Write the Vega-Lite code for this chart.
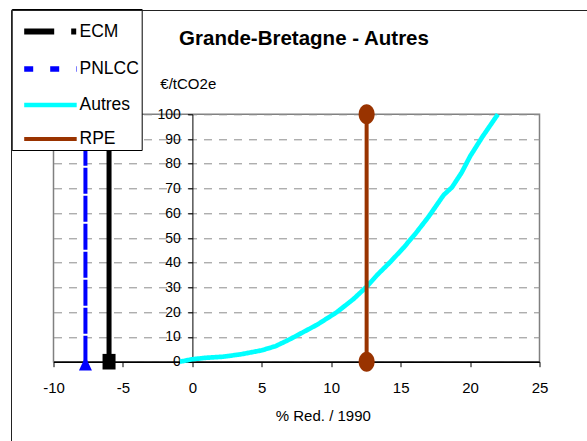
{
  "$schema": "https://vega.github.io/schema/vega-lite/v6.json",
  "width": 486,
  "height": 247.4,
  "autosize": "none",
  "padding": {"left": 53.5, "top": 114.3, "right": 47.5, "bottom": 79.3},
  "background": "white",
  "config": {
    "font": "Liberation Sans",
    "view": {"stroke": "#808080", "strokeWidth": 1.5}
  },
  "title": {
    "text": "Grande-Bretagne - Autres",
    "fontSize": 20.5,
    "fontWeight": "bold",
    "font": "Liberation Sans",
    "color": "black",
    "anchor": "middle",
    "frame": "group",
    "dx": 7.5,
    "baseline": "alphabetic",
    "offset": -56.6
  },
  "datasets": {
    "series": [
      {"serie": "ECM", "x": -6, "y": 0},
      {"serie": "ECM", "x": -6, "y": 100},
      {"serie": "PNLCC", "x": -7.7, "y": 0},
      {"serie": "PNLCC", "x": -7.7, "y": 100},
      {"serie": "Autres", "x": -0.9, "y": 0},
      {"serie": "Autres", "x": 0, "y": 1},
      {"serie": "Autres", "x": 1, "y": 1.6},
      {"serie": "Autres", "x": 2.2, "y": 2},
      {"serie": "Autres", "x": 3.5, "y": 3},
      {"serie": "Autres", "x": 5, "y": 4.6},
      {"serie": "Autres", "x": 6, "y": 6.3},
      {"serie": "Autres", "x": 7, "y": 9},
      {"serie": "Autres", "x": 8, "y": 12},
      {"serie": "Autres", "x": 9, "y": 15},
      {"serie": "Autres", "x": 10.4, "y": 20},
      {"serie": "Autres", "x": 11.6, "y": 25.3},
      {"serie": "Autres", "x": 12.55, "y": 30.3},
      {"serie": "Autres", "x": 13.3, "y": 35},
      {"serie": "Autres", "x": 14.2, "y": 40},
      {"serie": "Autres", "x": 15.2, "y": 46},
      {"serie": "Autres", "x": 16.1, "y": 52},
      {"serie": "Autres", "x": 17, "y": 58.5},
      {"serie": "Autres", "x": 18.1, "y": 67.4},
      {"serie": "Autres", "x": 18.7, "y": 70.5},
      {"serie": "Autres", "x": 19.4, "y": 76.5},
      {"serie": "Autres", "x": 20, "y": 83},
      {"serie": "Autres", "x": 20.9, "y": 91},
      {"serie": "Autres", "x": 22, "y": 100},
      {"serie": "RPE", "x": 12.55, "y": 0},
      {"serie": "RPE", "x": 12.55, "y": 100}
    ],
    "marqueurs": [
      {"marqueur": "ECM", "x": -6, "y": 0},
      {"marqueur": "PNLCC", "x": -7.7, "y": 0},
      {"marqueur": "RPE", "x": 12.55, "y": 0},
      {"marqueur": "RPE", "x": 12.55, "y": 100}
    ]
  },
  "encoding": {
    "x": {
      "field": "x",
      "type": "quantitative",
      "scale": {"domain": [-10, 25], "nice": false, "zero": false},
      "axis": {
        "values": [-10, -5, 0, 5, 10, 15, 20, 25],
        "labelExpr": "replace(datum.label, '−', '-')",
        "grid": false,
        "domainColor": "black",
        "domainWidth": 1.5,
        "tickColor": "black",
        "tickSize": 5,
        "labelFontSize": 15,
        "labelPadding": 14,
        "labelColor": "black",
        "labelFlush": false,
        "labelOverlap": false,
        "title": "% Red. / 1990",
        "titleFontSize": 15,
        "titleFontWeight": "normal",
        "titleColor": "black",
        "titleX": 269.3,
        "titleY": 58.3,
        "titleAlign": "center",
        "titleBaseline": "alphabetic"
      }
    },
    "y": {
      "field": "y",
      "type": "quantitative",
      "scale": {"domain": [0, 100], "nice": false, "zero": false},
      "axis": {
        "values": [0, 10, 20, 30, 40, 50, 60, 70, 80, 90, 100],
        "offset": -138.9,
        "grid": true,
        "gridDash": [8, 7],
        "gridColor": "#8c8c8c",
        "gridWidth": 1,
        "domainColor": "black",
        "domainWidth": 1,
        "tickColor": "black",
        "tickSize": 5,
        "labelPadding": 7,
        "labelFontSize": 14,
        "labelColor": "black",
        "labelFlush": false,
        "labelOverlap": false,
        "title": "€/tCO2e",
        "titleAngle": 0,
        "titleX": -4.6,
        "titleY": -26,
        "titleAlign": "center",
        "titleBaseline": "alphabetic",
        "titleFontSize": 15,
        "titleFontWeight": "normal",
        "titleColor": "black"
      }
    }
  },
  "layer": [
    {
      "data": {"name": "series"},
      "transform": [{"filter": "datum.serie === 'ECM'"}],
      "mark": {"type": "line", "clip": false, "color": "#000000", "strokeWidth": 5}
    },
    {
      "data": {"name": "series"},
      "transform": [{"filter": "datum.serie === 'PNLCC'"}],
      "mark": {"type": "line", "clip": false, "color": "#0000FF", "strokeWidth": 4, "strokeDash": [26, 2]}
    },
    {
      "data": {"name": "series"},
      "transform": [{"filter": "datum.serie === 'Autres' || datum.serie === 'RPE'"}],
      "mark": {"type": "line", "clip": false},
      "encoding": {
        "color": {
          "field": "serie",
          "type": "nominal",
          "scale": {
            "domain": ["ECM", "PNLCC", "Autres", "RPE"],
            "range": ["#000000", "#0000FF", "#00FFFF", "#993300"]
          },
          "legend": {
            "title": null,
            "orient": "none",
            "legendX": -41.8,
            "legendY": -105.3,
            "strokeColor": "black",
            "fillColor": "white",
            "padding": 2,
            "symbolType": "M-1,0H2.0",
            "symbolSize": 1225,
            "symbolOffset": 7.5,
            "labelOffset": 17.3,
            "labelFontSize": 17.5,
            "labelColor": "black",
            "labelFont": "Liberation Sans",
            "rowPadding": 4.5
          }
        },
        "strokeWidth": {
          "field": "serie",
          "type": "nominal",
          "scale": {"domain": ["ECM", "PNLCC", "Autres", "RPE"], "range": [6, 4, 5, 3]}
        },
        "strokeDash": {
          "field": "serie",
          "type": "nominal",
          "scale": {"domain": ["ECM", "PNLCC", "Autres", "RPE"], "range": [[30, 17, 5, 100], [9, 17], [1, 0], [1, 0]]}
        }
      }
    },
    {
      "data": {"name": "marqueurs"},
      "transform": [{"filter": "datum.marqueur === 'ECM'"}],
      "mark": {"type": "point", "filled": true, "color": "black", "opacity": 1, "size": 169, "clip": false},
      "encoding": {
        "shape": {
          "field": "marqueur",
          "type": "nominal",
          "scale": {"range": ["M-1,-1.2H1V1.2H-1Z"]},
          "legend": {
            "title": null,
            "orient": "none",
            "legendX": -42.5,
            "legendY": -104.3,
            "strokeColor": "#222222",
            "padding": 400,
            "symbolOpacity": 0,
            "labelOpacity": 0
          }
        }
      }
    },
    {
      "data": {"name": "marqueurs"},
      "transform": [{"filter": "datum.marqueur === 'PNLCC'"}],
      "mark": {"type": "point", "filled": true, "color": "#0000FF", "opacity": 1, "size": 169, "shape": "M0,-0.8L1,1.35L-1,1.35Z", "clip": false}
    },
    {
      "data": {"name": "marqueurs"},
      "transform": [{"filter": "datum.marqueur === 'RPE'"}],
      "mark": {"type": "point", "filled": true, "color": "#993300", "opacity": 1, "size": 256, "shape": "M0,-1.25A1,1.25,0,1,1,0,1.25A1,1.25,0,1,1,0,-1.25Z", "clip": false}
    }
  ]
}
